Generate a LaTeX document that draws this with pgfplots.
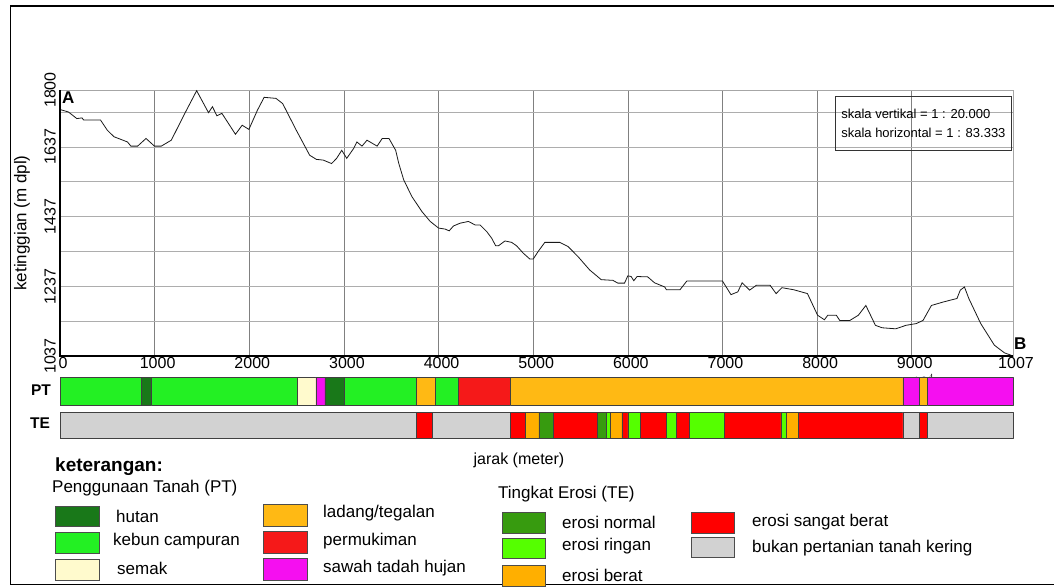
\documentclass[border=0pt]{standalone}
\usepackage{pgfplots}
\pgfplotsset{compat=1.18}
\usepackage{fontspec}
\setmainfont{Liberation Sans}
\definecolor{hutan}{RGB}{25,120,25}
\definecolor{kebun}{RGB}{35,240,35}
\definecolor{semak}{RGB}{255,250,205}
\definecolor{ladang}{RGB}{255,185,20}
\definecolor{permukiman}{RGB}{245,25,25}
\definecolor{sawah}{RGB}{245,15,240}
\definecolor{enormal}{RGB}{55,155,15}
\definecolor{eringan}{RGB}{85,255,0}
\definecolor{eberat}{RGB}{255,175,0}
\definecolor{esberat}{RGB}{255,0,0}
\definecolor{bukan}{RGB}{210,210,210}
\newcommand{\myfs}[1]{\fontsize{#1}{#1}\selectfont}
\newcommand{\seg}[3]{\addplot[fill=#1,draw=black!75,line width=0.7pt,line join=round] coordinates {(#2,0) (#2,1) (#3,1) (#3,0) (#2,0)};}
\begin{document}
\begin{tikzpicture}
\path[use as bounding box] (0pt,0pt) rectangle (1054pt,-586pt);

% profile
\begin{axis}[at={(60pt,-356pt)}, anchor=south west, scale only axis,
  width=953pt, height=266pt,
  xmin=0, xmax=10070, ymin=1037, ymax=1800,
  xtick={0,1000,2000,3000,4000,5000,6000,7000,8000,9000,10070},
  xticklabels={0,1000,2000,3000,4000,5000,6000,7000,8000,9000,1007},
  ytick={1037,1237,1437,1637,1800},
  yticklabels={1037,1237,1437,1637,1800},
  minor ytick={1037,1137,1237,1337,1437,1537,1637,1737,1800},
  xmajorgrids, ymajorgrids=false, yminorgrids,
  major grid style={black!50, line width=0.6pt},
  minor grid style={black!32, line width=0.6pt},
  major tick length=0pt, minor tick length=0pt,
  axis line style={black!35, line width=0.6pt},
  tick label style={font=\myfs{16}},
  xticklabel style={inner sep=1pt, xshift=3pt},
  yticklabel style={rotate=90, anchor=south, inner sep=4pt},
  ylabel={ketinggian (m dpl)},
  ylabel style={at={(axis description cs:-0.0399,0.5)}, anchor=center, font=\myfs{17}},
  xlabel={jarak (meter)},
  xlabel style={at={(axis description cs:0.4816,-0.391)}, anchor=center, font=\myfs{16}},
  clip=false]
\addplot[black!90, line width=0.8pt] coordinates {
(0,1744) (89,1737) (178,1718) (232,1720) (250,1714) (428,1714) (499,1685)
(570,1666) (713,1651) (749,1639) (820,1639) (909,1661) (998,1639) (1070,1639)
(1176,1656) (1319,1733) (1444,1798) (1569,1735) (1611,1752) (1658,1726)
(1711,1733) (1854,1673) (1925,1699) (1996,1687) (2086,1742) (2157,1779)
(2282,1776) (2353,1761) (2496,1685) (2638,1613) (2709,1601) (2781,1599)
(2870,1589) (2923,1604) (2977,1627) (3030,1604) (3102,1632) (3137,1651)
(3191,1639) (3244,1656) (3351,1639) (3405,1661) (3476,1661) (3547,1627)
(3579,1590) (3632,1542) (3719,1494) (3825,1451) (3912,1423) (4000,1404)
(4070,1401) (4112,1396) (4158,1410) (4228,1418) (4316,1423) (4386,1413)
(4439,1413) (4509,1394) (4561,1375) (4604,1353) (4632,1353) (4702,1367)
(4772,1363) (4825,1353) (4895,1332) (4965,1315) (5000,1315) (5053,1337)
(5123,1363) (5281,1363) (5368,1351) (5474,1322) (5596,1284) (5719,1256)
(5842,1254) (5895,1246) (5965,1246) (6000,1267) (6035,1265) (6063,1253)
(6098,1265) (6210,1264) (6282,1247) (6390,1235) (6408,1227) (6551,1227)
(6623,1252) (7000,1252) (7090,1213) (7162,1221) (7208,1247) (7287,1226)
(7359,1240) (7503,1240) (7567,1216) (7628,1233) (7754,1227) (7898,1216)
(8005,1154) (8077,1141) (8113,1154) (8203,1154) (8239,1139) (8346,1139)
(8436,1154) (8515,1182) (8616,1125) (8687,1118) (8831,1115) (8939,1125)
(9047,1130) (9119,1139) (9208,1182) (9334,1192) (9478,1202) (9513,1226)
(9557,1235) (9603,1202) (9729,1130) (9873,1068) (9980,1046) (10052,1039)
};
\draw[black, line width=2pt] (rel axis cs:0,1) -- (rel axis cs:0,0) -- (rel axis cs:1,0);
\node[anchor=north west, inner sep=0pt, font=\bfseries\myfs{17}] at (axis cs:20,1795) {A};
\node[anchor=south west, inner sep=0pt, font=\bfseries\myfs{17}] at (axis cs:10080,1055) {B};
\end{axis}

% PT bar
\begin{axis}[at={(60pt,-405pt)}, anchor=south west, scale only axis,
  width=953pt, height=28pt, xmin=0, xmax=10070, ymin=0, ymax=1, hide axis, clip=false]
\seg{kebun}{0}{856}
\seg{hutan}{856}{969}
\seg{kebun}{969}{2508}
\seg{semak}{2508}{2705}
\seg{sawah}{2705}{2800}
\seg{hutan}{2800}{3004}
\seg{kebun}{3004}{3762}
\seg{ladang}{3762}{3963}
\seg{kebun}{3963}{4209}
\seg{permukiman}{4209}{4763}
\seg{ladang}{4763}{8906}
\seg{sawah}{8906}{9081}
\seg{ladang}{9081}{9167}
\seg{sawah}{9167}{10070}
\end{axis}

% TE bar
\begin{axis}[at={(60pt,-438pt)}, anchor=south west, scale only axis,
  width=953pt, height=26pt, xmin=0, xmax=10070, ymin=0, ymax=1, hide axis, clip=false]
\seg{bukan}{0}{3762}
\seg{esberat}{3762}{3938}
\seg{bukan}{3938}{4763}
\seg{esberat}{4763}{4918}
\seg{eberat}{4918}{5061}
\seg{enormal}{5061}{5210}
\seg{esberat}{5210}{5677}
\seg{enormal}{5677}{5770}
\seg{eringan}{5770}{5814}
\seg{eberat}{5814}{5938}
\seg{esberat}{5938}{6001}
\seg{eringan}{6001}{6135}
\seg{esberat}{6135}{6412}
\seg{eringan}{6412}{6509}
\seg{esberat}{6509}{6647}
\seg{eringan}{6647}{7020}
\seg{esberat}{7020}{7618}
\seg{eringan}{7618}{7674}
\seg{eberat}{7674}{7804}
\seg{esberat}{7804}{8906}
\seg{bukan}{8906}{9081}
\seg{esberat}{9081}{9167}
\seg{bukan}{9167}{10070}
\end{axis}

\begin{scope}[x=1pt,y=-1pt]
% frame
\draw[black, line width=1.2pt] (1060,6) -- (10.6,6) -- (10.6,584.6) -- (1060,584.6);
% bar labels
\node[font=\bfseries\myfs{15.5}] at (41,390) {PT};
\node[font=\bfseries\myfs{15.5}] at (40,423) {TE};
% scale box
\node[draw=black!80, line width=0.8pt, anchor=north west, align=left, inner sep=0pt,
  minimum width=176pt, minimum height=54pt, font=\myfs{13}] at (835,96)
  {skala vertikal = 1 : 20.000\\[6pt]skala horizontal = 1 : 83.333};
% legend
\node[anchor=west, inner sep=0pt, font=\bfseries\myfs{19}] at (55,467) {keterangan:};
\node[anchor=west, inner sep=0pt, font=\myfs{17}] at (52,488) {Penggunaan Tanah (PT)};
\begin{scope}[draw=black!70, line width=0.7pt]
\draw[fill=hutan] (55,506) rectangle (99,526);
\draw[fill=kebun] (55,532) rectangle (99,553);
\draw[fill=semak] (55,559) rectangle (99,580);
\draw[fill=ladang] (263,504) rectangle (307,526);
\draw[fill=permukiman] (263,531) rectangle (307,553);
\draw[fill=sawah] (263,558) rectangle (307,580);
\draw[fill=enormal] (502,512) rectangle (545,533);
\draw[fill=eringan] (502,538) rectangle (545,558);
\draw[fill=eberat] (502,565) rectangle (545,586);
\draw[fill=esberat] (691,512) rectangle (734,533);
\draw[fill=bukan] (691,537) rectangle (734,557);
\end{scope}
\begin{scope}[every node/.style={anchor=west, inner sep=0pt, font=\myfs{17}}]
\node at (116,516) {hutan};
\node at (113,541) {kebun campuran};
\node at (117,568) {semak};
\node at (323,513) {ladang/tegalan};
\node at (323,541) {permukiman};
\node at (323,568) {sawah tadah hujan};
\node at (498,494) {Tingkat Erosi (TE)};
\node at (562,522) {erosi normal};
\node at (562,546) {erosi ringan};
\node at (562,575) {erosi berat};
\node at (752,522) {erosi sangat berat};
\node at (752,548) {bukan pertanian tanah kering};
\end{scope}
\end{scope}
\end{tikzpicture}
\end{document}
